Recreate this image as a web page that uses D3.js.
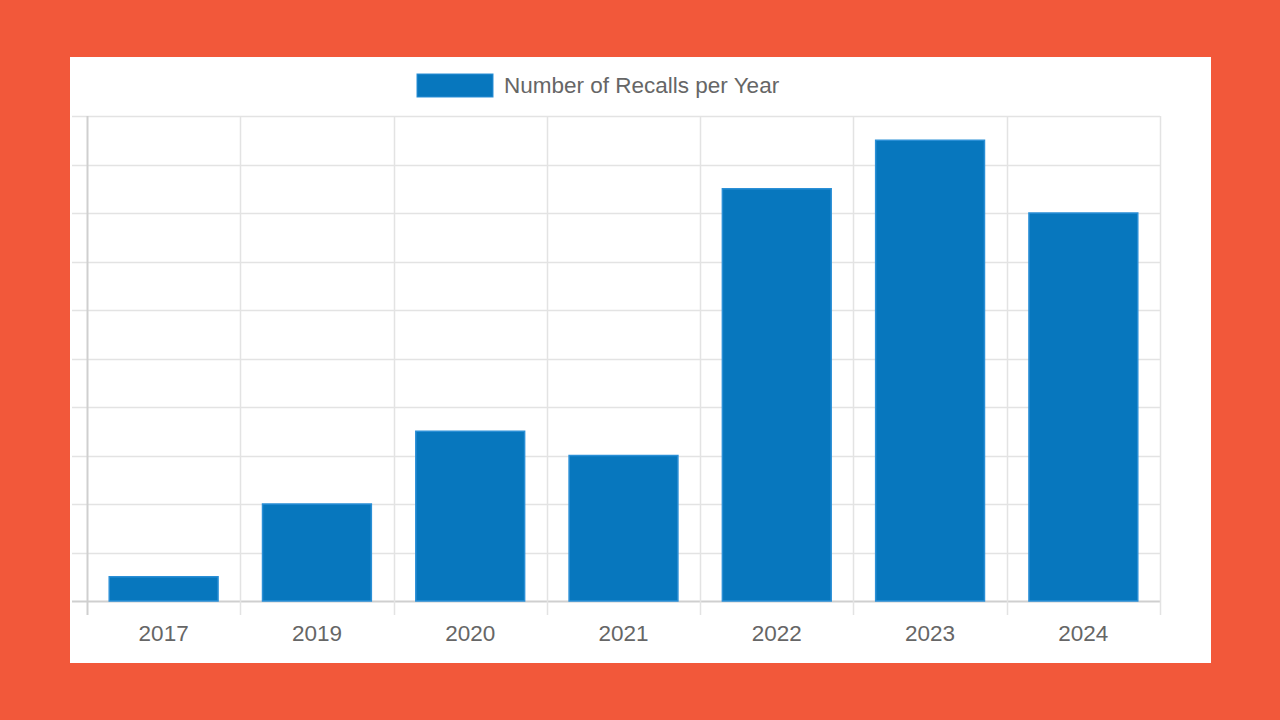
<!DOCTYPE html>
<html><head><meta charset="utf-8">
<script src="https://cdn.jsdelivr.net/npm/d3@7"></script>
<style>html,body{margin:0;padding:0;background:#F2583A;}svg{display:block;}</style>
</head><body>
<svg id="c" width="1280" height="720"></svg>
<script>
const categories = ["2017","2019","2020","2021","2022","2023","2024"];
const values = [1, 4, 7, 6, 17, 19, 16];
const yTicks = [0,2,4,6,8,10,12,14,16,18,20];
const seriesName = "Number of Recalls per Year";

(function(){
const svg = d3.select("#c");
svg.append("rect").attr("x",0).attr("y",0).attr("width",1280).attr("height",720).attr("fill","#F2583A");
svg.append("rect").attr("x",70).attr("y",57).attr("width",1141).attr("height",606).attr("fill","#ffffff");

const pl = 87, pr = 1160, pt = 116, pb = 601;
const x = d3.scaleBand().domain(categories).range([pl, pr]).paddingInner(0).paddingOuter(0);
const y = d3.scaleLinear().domain([0, 20]).range([pb, pt]);

const g = svg.append("g");
g.selectAll("line.h").data(yTicks).join("line")
  .attr("x1", pl - 15).attr("x2", pr)
  .attr("y1", d => Math.round(y(d)) + 0.5).attr("y2", d => Math.round(y(d)) + 0.5)
  .attr("stroke", d => d === 0 ? "#cfcfcf" : "#e3e3e3").attr("stroke-width", d => d === 0 ? 2 : 1.5);
const vx = categories.map(c => x(c)).concat([pr]);
g.selectAll("line.v").data(vx).join("line")
  .attr("x1", d => Math.round(d) + 0.5).attr("x2", d => Math.round(d) + 0.5)
  .attr("y1", pt).attr("y2", pb + 14)
  .attr("stroke", (d,i) => i === 0 ? "#cfcfcf" : "#e3e3e3").attr("stroke-width", (d,i) => i === 0 ? 2 : 1.5);

const bw = x.bandwidth() * 0.71;
g.selectAll("rect.bar").data(values).join("rect")
  .attr("x", (d,i) => x(categories[i]) + (x.bandwidth() - bw) / 2)
  .attr("y", d => y(d))
  .attr("width", bw)
  .attr("height", d => y(0) - y(d))
  .attr("fill", "#0777BE")
  .attr("stroke", "#2a8fd6").attr("stroke-width", 1.5);

g.selectAll("text.xl").data(categories).join("text")
  .attr("x", d => x(d) + x.bandwidth() / 2)
  .attr("y", 641)
  .attr("text-anchor", "middle")
  .attr("font-family", "Liberation Sans, Arial, sans-serif")
  .attr("font-size", 22.5)
  .attr("fill", "#666666")
  .text(d => d);

svg.append("rect").attr("x", 417).attr("y", 74).attr("width", 76).attr("height", 23)
  .attr("fill", "#0777BE").attr("stroke", "#2a8fd6").attr("stroke-width", 1);
svg.append("text").attr("x", 504).attr("y", 92.5)
  .attr("font-family", "Liberation Sans, Arial, sans-serif")
  .attr("font-size", 22.5).attr("fill", "#666666").text(seriesName);
})();
</script>
</body></html>
